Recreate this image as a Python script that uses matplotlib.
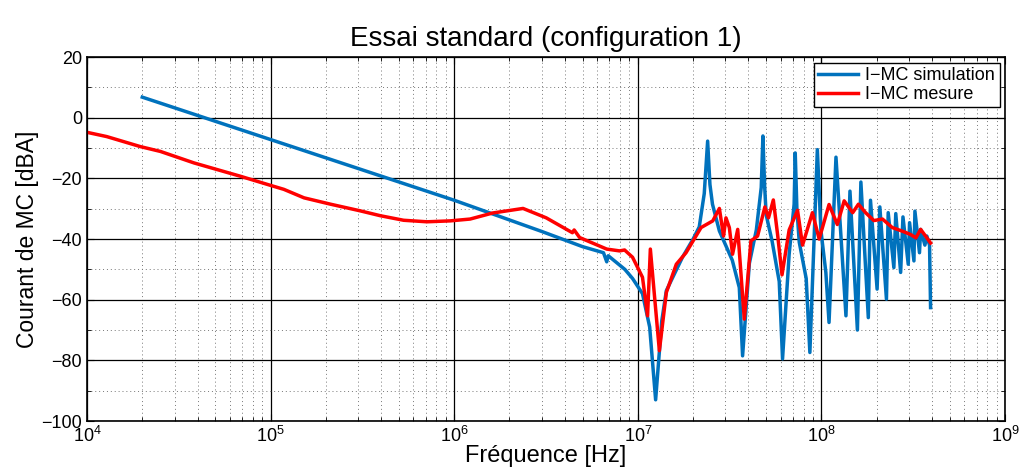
import matplotlib.pyplot as plt
import numpy as np
from matplotlib.ticker import LogLocator, MultipleLocator

plt.rcParams['font.family'] = ['Liberation Sans', 'DejaVu Sans']
plt.rcParams['mathtext.fontset'] = 'custom'
plt.rcParams['mathtext.rm'] = 'Liberation Sans'
plt.rcParams['mathtext.it'] = 'Liberation Sans'

# I-MC simulation (Hz, dBA)
f_sim = [2e4, 1e6, 3e6, 5e6, 6.5e6, 6.77e6, 6.9e6, 8.5e6, 9.36e6, 1.06e7, 1.16e7, 1.25e7,
         1.35e7, 1.43e7, 1.75e7, 2.0e7, 2.16e7, 2.3e7, 2.4e7, 2.47e7, 2.55e7, 2.78e7, 3.27e7, 3.57e7, 3.72e7,
         4.05e7, 4.42e7, 4.7e7, 4.8e7, 4.9e7, 5.0e7, 5.39e7, 5.89e7, 6.14e7,
         6.67e7, 7.1e7, 7.2e7, 7.35e7, 7.57e7, 8.26e7, 8.65e7,
         9.12e7, 9.5e7, 9.93e7, 1.057e8, 1.10e8,
         1.2e8, 1.36e8, 1.43e8, 1.57e8, 1.64e8, 1.80e8, 1.85e8, 2.01e8, 2.08e8, 2.26e8,
         2.31e8, 2.48e8, 2.54e8, 2.70e8, 2.78e8, 2.97e8, 3.02e8, 3.19e8, 3.23e8, 3.42e8,
         3.47e8, 3.66e8, 3.75e8, 3.88e8, 3.93e8]
db_sim = [6.8, -27.2, -37.5, -42.5, -44.5, -47.5, -45.5, -50, -53, -58, -69, -93,
          -67, -57, -46, -40, -36, -25, -7.7, -22, -28.5, -37.3, -47, -56, -78.5,
          -48, -37, -23, -6, -22, -32, -40.8, -54, -79.5,
          -45, -28.5, -11.6, -30, -41, -53, -77.4,
          -40, -10.5, -37, -51, -67.5,
          -13, -65.3, -24.2, -70, -21.2, -65.9, -27.2, -56.5, -29.4, -59.8,
          -31.3, -49.4, -31.6, -51, -32.7, -48.3, -34.6, -47.2, -30.8, -44.5,
          -36.8, -42, -39, -42, -62.6]

# I-MC mesure (Hz, dBA)
f_mes = [1e4, 1.28e4, 1.95e4, 2.51e4, 3.83e4, 6.86e4, 1e5, 1.18e5, 1.52e5, 2.12e5, 3.08e5,
         3.96e5, 5.3e5, 7.1e5, 9.5e5, 1.22e6, 1.62e6, 2.37e6, 3.17e6, 4.4e6, 4.5e6, 4.82e6,
         6.77e6, 7.95e6, 8.47e6, 9.36e6, 1.06e7, 1.13e7, 1.17e7, 1.23e7, 1.31e7, 1.43e7,
         1.62e7, 1.83e7, 2.21e7, 2.56e7, 2.78e7, 2.93e7, 3.02e7, 3.15e7, 3.28e7, 3.5e7,
         3.8e7, 4.13e7, 4.49e7, 4.92e7, 5.15e7, 5.47e7, 5.77e7, 6.1e7, 6.67e7, 7.41e7,
         7.89e7, 8.93e7, 9.72e7, 1.10e8, 1.22e8, 1.33e8, 1.48e8, 1.59e8, 1.74e8, 1.93e8,
         2.15e8, 2.43e8, 2.76e8, 3.06e8, 3.27e8, 3.47e8, 3.69e8, 3.93e8]
db_mes = [-4.8, -6.2, -9.5, -11.1, -14.9, -19.3, -22.3, -23.6, -26.4, -28.5, -30.7,
          -32.3, -33.8, -34.3, -34, -33.4, -31.4, -29.9, -33, -37.9, -37, -39.5,
          -43.3, -43.9, -43.6, -46, -52.6, -65.3, -43.3, -58.2, -76.8, -57.6,
          -48.3, -44.5, -36.2, -34, -29.9, -39, -33, -36.2, -45, -36.8,
          -66.4, -40.6, -39, -29.4, -33, -27.1, -38.5, -51.8, -37, -30.5,
          -42, -31.3, -40, -28.6, -35.2, -27.4, -31.3, -28.5, -31.3, -33.9,
          -33.4, -36.2, -37.4, -38.5, -39.6, -36.8, -39, -41.3]

fig = plt.figure(figsize=(10.19, 4.76), dpi=100)
ax = fig.add_axes([0.0854, 0.1155, 0.9009, 0.7645])

ax.semilogx(f_sim, db_sim, color='#0072BD', lw=2.5, label='I\u2212MC simulation')
ax.semilogx(f_mes, db_mes, color='#FF0000', lw=2.5, label='I\u2212MC mesure')

ax.set_xlim(1e4, 1e9)
ax.set_ylim(-100, 20)
ax.yaxis.set_major_locator(MultipleLocator(20))
ax.yaxis.set_minor_locator(MultipleLocator(10))
ax.xaxis.set_major_locator(LogLocator(base=10, numticks=10))
ax.xaxis.set_minor_locator(LogLocator(base=10, subs=np.arange(2, 10), numticks=10))

ax.grid(which='major', color='black', lw=0.9, ls='-')
ax.grid(which='minor', color='#777777', lw=0.7, ls=(0, (1, 3)))
ax.set_axisbelow(True)

ax.tick_params(which='both', direction='in', top=True, right=True, labelsize=13)
ax.tick_params(which='major', length=5)
ax.tick_params(which='minor', length=3)
for s in ax.spines.values():
    s.set_linewidth(1.2)

ax.set_title('Essai standard (configuration 1)', fontsize=20, pad=8)
ax.set_xlabel('Fréquence [Hz]', fontsize=17, labelpad=-1)
ax.set_ylabel('Courant de MC [dBA]', fontsize=16.5, labelpad=2)

leg = ax.legend(loc='upper right', fontsize=13, fancybox=False, framealpha=1,
                edgecolor='black', borderaxespad=0.3, handlelength=2.2,
                borderpad=0.25, labelspacing=0.1, handletextpad=0.4)
leg.get_frame().set_linewidth(1.0)

fig.savefig('out.png', dpi=100)
